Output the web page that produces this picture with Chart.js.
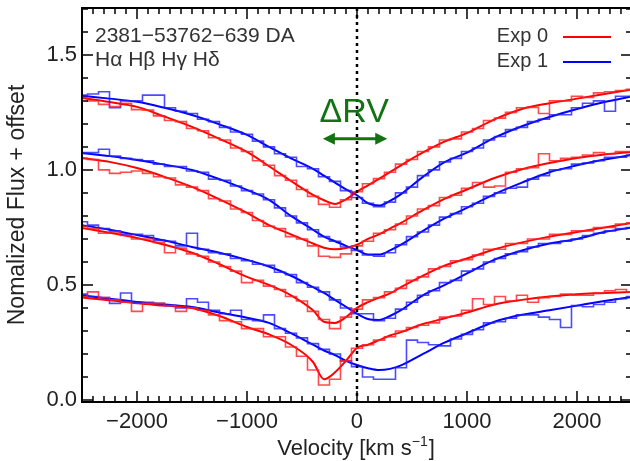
<!DOCTYPE html>
<html lang="en">
<head>
<meta charset="utf-8">
<script src="https://cdn.jsdelivr.net/npm/chart.js"></script>
<style>
  body { margin: 0; background: #fff; }
  canvas { display: block; }
</style>
</head>
<body>
<canvas id="graphiqueRV" width="630" height="461"></canvas>
<script>
// velocity of each spectrum bin (km/s)
const binVel = [-2500,-2400,-2300,-2200,-2100,-2000,-1900,-1800,-1700,-1600,-1500,-1400,-1300,-1200,-1100,
  -1000,-900,-800,-700,-600,-500,-400,-300,-200,-100,0,100,200,300,400,500,600,700,800,900,1000,
  1100,1200,1300,1400,1500,1600,1700,1800,1900,2000,2100,2200,2300,2400,2500];
// velocity grid of the model fits
const modelVel = [-2500,-2250,-2000,-1750,-1500,-1250,-1000,-800,-600,-400,-300,-200,-100,0,
  100,200,300,400,600,800,1000,1250,1500,1750,2000,2250,2500];

// top line (flux + offset)
const line1Exp0 = [1.315,1.30,1.285,1.275,1.29,1.262,1.26,1.235,1.215,1.21,1.18,1.17,1.14,1.13,1.095,1.08,1.04,1.02,0.975,0.955,
  0.915,0.885,0.85,0.838,0.87,0.905,0.94,0.962,0.99,1.025,1.045,1.08,1.10,1.13,1.135,1.165,1.18,1.215,1.225,1.25,
  1.27,1.272,1.245,1.30,1.30,1.32,1.315,1.335,1.34,1.345,1.35];
const line1Exp1 = [1.325,1.33,1.34,1.27,1.30,1.30,1.325,1.325,1.27,1.255,1.245,1.22,1.21,1.185,1.165,1.155,1.125,1.10,1.07,1.055,
  1.015,1.005,0.97,0.95,0.91,0.88,0.855,0.84,0.86,0.90,0.925,0.975,1.00,1.035,1.05,1.08,1.095,1.13,1.145,1.175,
  1.185,1.21,1.22,1.24,1.24,1.27,1.29,1.30,1.255,1.32,1.32];
const line1Fit0 = [1.313,1.295,1.274,1.232,1.187,1.135,1.078,1.016,0.952,0.891,0.868,0.852,0.872,0.905,
  0.933,0.961,0.99,1.02,1.076,1.124,1.16,1.22,1.265,1.29,1.31,1.33,1.35];
const line1Fit1 = [1.322,1.31,1.296,1.27,1.239,1.198,1.152,1.10,1.05,1.005,0.975,0.945,0.915,0.89,
  0.855,0.845,0.865,0.895,0.97,1.035,1.075,1.14,1.19,1.23,1.265,1.295,1.32];

// second line
const line2Exp0 = [1.05,1.045,1.00,0.985,0.99,0.995,0.985,0.97,0.965,0.935,0.925,0.91,0.875,0.865,0.83,0.815,0.78,0.755,0.745,0.71,
  0.70,0.67,0.625,0.62,0.635,0.67,0.69,0.725,0.74,0.765,0.80,0.83,0.845,0.88,0.89,0.92,0.945,0.925,0.93,0.99,
  1.005,1.01,1.07,1.04,1.05,1.055,1.065,1.075,1.07,1.08,1.08];
const line2Exp1 = [1.075,1.075,1.09,1.06,1.05,1.045,1.04,1.025,1.015,1.015,0.995,0.99,0.96,0.955,0.93,0.91,0.895,0.87,0.835,0.80,
  0.77,0.74,0.71,0.69,0.665,0.65,0.63,0.625,0.64,0.675,0.71,0.73,0.76,0.795,0.81,0.84,0.855,0.885,0.90,0.92,
  0.925,0.96,0.975,1.00,1.005,1.025,1.03,1.04,1.055,1.055,1.065];
const line2Fit0 = [1.052,1.035,1.008,0.97,0.926,0.872,0.813,0.76,0.72,0.68,0.662,0.655,0.66,0.675,
  0.70,0.72,0.745,0.77,0.825,0.875,0.915,0.965,1.003,1.03,1.052,1.067,1.078];
const line2Fit1 = [1.074,1.06,1.043,1.023,1.0,0.96,0.913,0.87,0.80,0.74,0.71,0.69,0.67,0.652,
  0.632,0.632,0.65,0.675,0.735,0.79,0.835,0.895,0.945,0.99,1.02,1.045,1.065];

// third line
const line3Exp0 = [0.755,0.745,0.725,0.73,0.715,0.70,0.70,0.685,0.64,0.66,0.635,0.625,0.60,0.58,0.56,0.51,0.52,0.495,0.48,0.45,
  0.43,0.385,0.35,0.31,0.36,0.395,0.435,0.445,0.47,0.485,0.52,0.535,0.57,0.58,0.605,0.61,0.63,0.655,0.655,0.68,
  0.68,0.70,0.70,0.72,0.72,0.735,0.735,0.75,0.75,0.765,0.77];
const line3Exp1 = [0.775,0.76,0.745,0.735,0.72,0.72,0.715,0.695,0.69,0.67,0.725,0.655,0.64,0.635,0.615,0.605,0.59,0.585,0.555,0.545,
  0.51,0.49,0.47,0.435,0.40,0.375,0.375,0.345,0.355,0.395,0.425,0.455,0.475,0.51,0.52,0.56,0.57,0.60,0.615,0.635,
  0.645,0.665,0.68,0.68,0.69,0.70,0.715,0.725,0.735,0.745,0.75];
const line3Fit0 = [0.748,0.727,0.704,0.675,0.64,0.59,0.535,0.50,0.455,0.39,0.34,0.335,0.36,0.40,
  0.425,0.445,0.463,0.49,0.54,0.585,0.615,0.655,0.685,0.71,0.73,0.75,0.77];
const line3Fit1 = [0.76,0.74,0.717,0.693,0.665,0.64,0.609,0.58,0.54,0.49,0.465,0.435,0.405,0.375,
  0.352,0.348,0.365,0.39,0.455,0.50,0.55,0.61,0.65,0.68,0.70,0.73,0.75];

// bottom line
const line4Exp0 = [0.45,0.47,0.445,0.435,0.425,0.385,0.42,0.42,0.41,0.385,0.40,0.39,0.37,0.345,0.34,0.31,0.31,0.275,0.275,0.23,
  0.19,0.13,0.065,0.09,0.17,0.225,0.24,0.26,0.275,0.30,0.315,0.325,0.335,0.36,0.365,0.39,0.44,0.415,0.45,0.43,
  0.455,0.425,0.445,0.45,0.46,0.455,0.455,0.465,0.475,0.48,0.47];
const line4Exp1 = [0.46,0.45,0.445,0.42,0.465,0.425,0.425,0.42,0.41,0.40,0.44,0.425,0.39,0.375,0.39,0.35,0.345,0.37,0.31,0.29,
  0.27,0.245,0.22,0.2,0.17,0.145,0.10,0.09,0.09,0.14,0.26,0.25,0.24,0.235,0.265,0.285,0.305,0.335,0.34,0.355,
  0.37,0.37,0.36,0.35,0.315,0.41,0.405,0.415,0.425,0.44,0.45];
const line4Fit0 = [0.445,0.433,0.42,0.41,0.40,0.365,0.317,0.285,0.24,0.165,0.09,0.12,0.17,0.226,
  0.24,0.26,0.28,0.295,0.33,0.355,0.38,0.415,0.435,0.45,0.46,0.465,0.47];
const line4Fit1 = [0.455,0.44,0.426,0.415,0.404,0.38,0.357,0.335,0.29,0.24,0.215,0.195,0.17,0.152,
  0.138,0.13,0.135,0.15,0.20,0.25,0.29,0.34,0.37,0.39,0.41,0.43,0.448];

const xTicks = [-2000, -1000, 0, 1000, 2000];
const yTicks = [0, 0.5, 1.0, 1.5];
const legendLabels = ['Exp 0', 'Exp 1'];

const RED = '#ff0000';
const BLUE = '#0000ff';
const FONT = '"Liberation Sans", Arial, Helvetica, sans-serif';

function pts(xs, ys) {
  return xs.map((x, i) => ({ x: x, y: ys[i] }));
}

function spectre(ys, color) {
  return { data: pts(binVel, ys), stepped: 'middle', borderColor: color, borderWidth: 1.6,
    pointRadius: 0, fill: false };
}

function modele(ys, color) {
  return { data: pts(modelVel, ys), cubicInterpolationMode: 'monotone', borderColor: color,
    borderWidth: 2, pointRadius: 0, fill: false };
}

const datasets = [
  spectre(line1Exp0, 'rgba(255,30,30,0.8)'), spectre(line1Exp1, 'rgba(30,30,255,0.8)'),
  spectre(line2Exp0, 'rgba(255,30,30,0.8)'), spectre(line2Exp1, 'rgba(30,30,255,0.8)'),
  spectre(line3Exp0, 'rgba(255,30,30,0.8)'), spectre(line3Exp1, 'rgba(30,30,255,0.8)'),
  spectre(line4Exp0, 'rgba(255,30,30,0.8)'), spectre(line4Exp1, 'rgba(30,30,255,0.8)'),
  modele(line1Fit0, RED), modele(line1Fit1, BLUE),
  modele(line2Fit0, RED), modele(line2Fit1, BLUE),
  modele(line3Fit0, RED), modele(line3Fit1, BLUE),
  modele(line4Fit0, RED), modele(line4Fit1, BLUE)
];

// frame, inward ticks, zero line, labels, legend, delta RV arrow
const decor = {
  id: 'decor',
  afterDraw(chart) {
    const ctx = chart.ctx;
    const xs = chart.scales.x, ys = chart.scales.y;
    const L = chart.chartArea.left, T = chart.chartArea.top;
    const B = chart.chartArea.bottom, R = chart.chartArea.right + 2;
    ctx.save();

    // dotted line at zero velocity
    ctx.strokeStyle = '#000';
    ctx.lineWidth = 2.5;
    ctx.setLineDash([3, 4]);
    const x0 = xs.getPixelForValue(0);
    ctx.beginPath(); ctx.moveTo(x0, T); ctx.lineTo(x0, B); ctx.stroke();
    ctx.setLineDash([]);

    // frame
    ctx.lineWidth = 2;
    ctx.strokeRect(L, T, R - L, B - T);

    // ticks
    ctx.lineWidth = 1.5;
    ctx.beginPath();
    for (let v = -2500; v <= 2500; v += 100) {
      const px = xs.getPixelForValue(v);
      if (px < L || px > R) continue;
      const len = (v % 1000 === 0) ? 11 : 6;
      ctx.moveTo(px, B); ctx.lineTo(px, B - len);
      ctx.moveTo(px, T); ctx.lineTo(px, T + len);
    }
    for (let k = 0; k <= 17; k++) {
      const py = ys.getPixelForValue(k / 10);
      const len = (k % 5 === 0) ? 11 : 6;
      ctx.moveTo(L, py); ctx.lineTo(L + len, py);
      ctx.moveTo(R, py); ctx.lineTo(R - len, py);
    }
    ctx.stroke();

    // axis titles
    ctx.fillStyle = '#222';
    ctx.textBaseline = 'alphabetic';
    const big = '22px ' + FONT, small = '14px ' + FONT;
    const t1 = 'Velocity [km s', t2 = '\u22121', t3 = ']';
    ctx.font = big; const w1 = ctx.measureText(t1).width, w3 = ctx.measureText(t3).width;
    ctx.font = small; const w2 = ctx.measureText(t2).width;
    let xx = (L + chart.chartArea.right) / 2 - (w1 + w2 + w3 + 1) / 2;
    const by = 455;
    ctx.textAlign = 'left';
    ctx.font = big; ctx.fillText(t1, xx, by); xx += w1;
    ctx.font = small; ctx.fillText(t2, xx, by - 9); xx += w2 + 1;
    ctx.font = big; ctx.fillText(t3, xx, by);

    ctx.save();
    ctx.translate(24, 205);
    ctx.rotate(-Math.PI / 2);
    ctx.textAlign = 'center';
    ctx.font = '23px ' + FONT;
    ctx.fillText('Nomalized Flux + offset', 0, 0);
    ctx.restore();

    // object label
    ctx.fillStyle = '#333';
    ctx.font = '21px ' + FONT;
    ctx.textAlign = 'left';
    ctx.fillText('2381\u221253762\u2212639 DA', 95, 42);
    ctx.fillText('H\u03b1 H\u03b2 H\u03b3 H\u03b4', 95, 66);

    // legend
    const colors = [RED, BLUE];
    ctx.font = '20px ' + FONT;
    ctx.textAlign = 'right';
    legendLabels.forEach((lab, i) => {
      const yy = 42 + i * 25;
      ctx.fillStyle = '#333';
      ctx.fillText(lab, 548, yy);
      ctx.strokeStyle = colors[i];
      ctx.lineWidth = 2;
      ctx.beginPath(); ctx.moveTo(563, yy - 5); ctx.lineTo(611, yy - 5); ctx.stroke();
    });

    // delta RV annotation
    const green = '#137313';
    ctx.fillStyle = green;
    ctx.strokeStyle = green;
    ctx.font = '34px ' + FONT;
    ctx.textAlign = 'center';
    ctx.fillText('\u0394RV', xs.getPixelForValue(-25), ys.getPixelForValue(1.207));
    const ay = ys.getPixelForValue(1.135);
    const a1 = xs.getPixelForValue(-310), a2 = xs.getPixelForValue(275);
    ctx.lineWidth = 3;
    ctx.beginPath(); ctx.moveTo(a1 + 8, ay); ctx.lineTo(a2 - 8, ay); ctx.stroke();
    ctx.beginPath();
    ctx.moveTo(a1, ay); ctx.lineTo(a1 + 12, ay - 6); ctx.lineTo(a1 + 12, ay + 6); ctx.closePath();
    ctx.moveTo(a2, ay); ctx.lineTo(a2 - 12, ay - 6); ctx.lineTo(a2 - 12, ay + 6); ctx.closePath();
    ctx.fill();

    ctx.restore();
  }
};

new Chart(document.getElementById('graphiqueRV'), {
  type: 'line',
  data: { datasets: datasets },
  options: {
    responsive: false,
    animation: false,
    events: [],
    devicePixelRatio: 1,
    layout: { padding: { top: 8, right: 0, left: 0, bottom: 0 } },
    plugins: { legend: { display: false }, tooltip: { enabled: false } },
    scales: {
      x: {
        type: 'linear',
        min: -2500,
        max: 2482,
        grid: { display: false, drawTicks: false },
        border: { display: false },
        afterBuildTicks: s => { s.ticks = xTicks.map(v => ({ value: v })); },
        afterFit: s => { s.height = 59; s.paddingLeft = 0; s.paddingRight = 0; },
        ticks: {
          padding: 7,
          maxRotation: 0,
          color: '#222',
          font: { size: 22, family: FONT },
          callback: v => (v < 0 ? '\u2212' + Math.abs(v) : String(v))
        }
      },
      y: {
        min: -0.009,
        max: 1.704,
        grid: { display: false, drawTicks: false },
        border: { display: false },
        afterBuildTicks: s => { s.ticks = yTicks.map(v => ({ value: v })); },
        afterFit: s => { s.width = 82; s.paddingTop = 0; s.paddingBottom = 0; },
        ticks: {
          padding: 5,
          color: '#222',
          font: { size: 22, family: FONT },
          callback: v => v.toFixed(1)
        }
      }
    }
  },
  plugins: [decor]
});
</script>
</body>
</html>
